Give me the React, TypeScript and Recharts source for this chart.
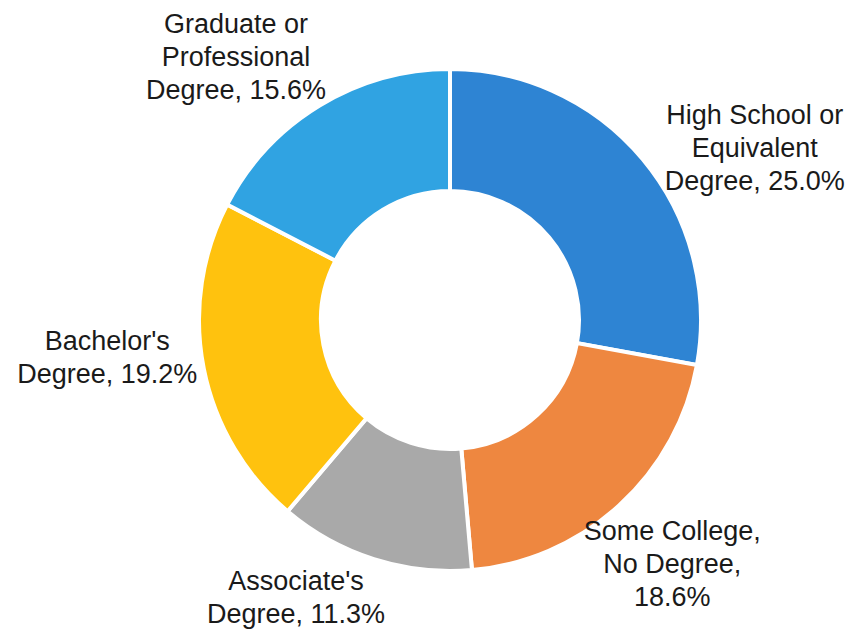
import React from 'react';
import { PieChart, Pie, Cell } from 'recharts';

const categories = [
  'High School or Equivalent Degree',
  'Some College, No Degree',
  "Associate's Degree",
  "Bachelor's Degree",
  'Graduate or Professional Degree',
];
const values = [25.0, 18.6, 11.3, 19.2, 15.6];
const labelLines = [
  ['High School or', 'Equivalent', 'Degree, 25.0%'],
  ['Some College,', 'No Degree,', '18.6%'],
  ["Associate's", 'Degree, 11.3%'],
  ["Bachelor's", 'Degree, 19.2%'],
  ['Graduate or', 'Professional', 'Degree, 15.6%'],
];

const colors = ['#2E84D3', '#EE8740', '#A9A9A9', '#FFC20E', '#30A3E2'];
const labelNudges = [
  [49, 41],
  [-2, -2],
  [-53, -40],
  [-16, -27],
  [-41, 22],
];

const data = categories.map((name, i) => ({ name, value: values[i] }));

const RAD = Math.PI / 180;
const FONT = 27;
const LH = 33;

const renderLabel = (props: any) => {
  const { cx, cy, midAngle, outerRadius, index } = props;
  const r = outerRadius + 82;
  const x = cx + r * Math.cos(-midAngle * RAD) + labelNudges[index][0];
  const y = cy + r * Math.sin(-midAngle * RAD) + labelNudges[index][1];
  const lines = labelLines[index];
  const n = lines.length;
  return (
    <text
      x={x}
      y={y}
      textAnchor="middle"
      dominantBaseline="central"
      fill="#1a1a1a"
      fontSize={FONT}
      fontFamily="'Liberation Sans', Arial, sans-serif"
    >
      {lines.map((ln, i) => (
        <tspan key={i} x={x} y={y + (i - (n - 1) / 2) * LH} dominantBaseline="central">
          {ln}
        </tspan>
      ))}
    </text>
  );
};

export default function App() {
  return (
    <div style={{ position: 'absolute', left: 0, top: 0, width: 850, height: 631, background: '#fff' }}>
      <PieChart width={850} height={631} margin={{ top: 0, right: 0, bottom: 0, left: 0 }}>
        <Pie
          data={data}
          dataKey="value"
          nameKey="name"
          cx={450}
          cy={320}
          innerRadius={129}
          outerRadius={251}
          startAngle={90}
          endAngle={-270}
          stroke="#ffffff"
          strokeWidth={4}
          labelLine={false}
          label={renderLabel}
          isAnimationActive={false}
        >
          {data.map((d, i) => (
            <Cell key={d.name} fill={colors[i]} />
          ))}
        </Pie>
      </PieChart>
    </div>
  );
}
